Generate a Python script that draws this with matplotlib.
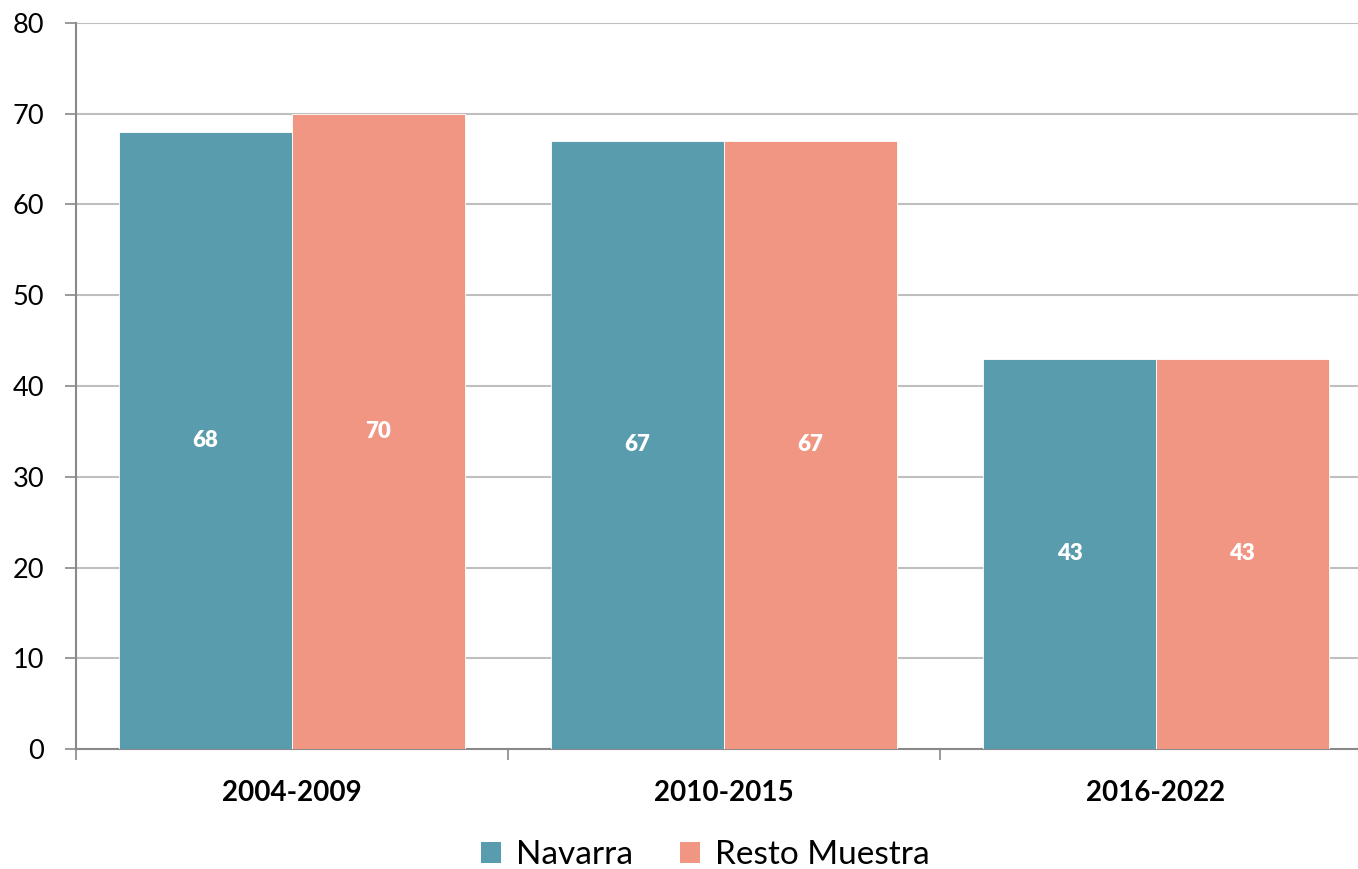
import matplotlib
matplotlib.use("Agg")
import matplotlib.pyplot as plt
from matplotlib.patches import Patch
import numpy as np

plt.rcParams['font.family'] = ['Lato', 'DejaVu Sans']

categories = ["2004-2009", "2010-2015", "2016-2022"]
navarra = [68, 67, 43]
resto = [70, 67, 43]
series_names = ["Navarra", "Resto Muestra"]
colors = ["#589CAD", "#F09683"]
yticks = [0, 10, 20, 30, 40, 50, 60, 70, 80]

W, H = 1358, 869
fig = plt.figure(figsize=(W / 100, H / 100), dpi=100)
left, right, top, bottom = 76, 1372, 23, 749
ax = fig.add_axes([left / W, 1 - bottom / H, (right - left) / W, (bottom - top) / H])

x = np.arange(len(categories))
bw = 0.4
for vals, off, col in ((navarra, -bw / 2, colors[0]), (resto, bw / 2, colors[1])):
    bars = ax.bar(x + off, vals, width=bw, color=col, edgecolor="white",
                  linewidth=0.6, zorder=3)
    for b, v in zip(bars, vals):
        ax.text(b.get_x() + b.get_width() / 2, v / 2, f"{v}", ha="center",
                va="center", color="white", fontsize=16, fontweight="heavy",
                zorder=4)

ax.set_xlim(-0.5, len(categories) - 0.5)
ax.set_ylim(0, 80)
ax.set_yticks(yticks)
ax.set_yticklabels([str(t) for t in yticks], fontsize=19.5)
ax.yaxis.grid(True, color="#BFBFBF", linewidth=1.5, zorder=0)
ax.set_axisbelow(True)

ax.set_xticks(x)
ax.set_xticklabels(categories, fontsize=20, fontweight="bold")
ax.tick_params(axis="x", length=0, pad=22)
ax.set_xticks(np.arange(len(categories) + 1) - 0.5, minor=True)
ax.tick_params(axis="x", which="minor", length=8, color="#898989", width=1.2)
ax.tick_params(axis="y", length=8, color="#898989", width=1.2, pad=15)

for s in ("top", "right"):
    ax.spines[s].set_visible(False)
for s in ("left", "bottom"):
    ax.spines[s].set_color("#898989")
    ax.spines[s].set_linewidth(1.5)

handles = [Patch(facecolor=c, edgecolor="none") for c in colors]
fig.legend(handles, series_names, loc="center", bbox_to_anchor=(705 / W, 1 - 855 / H),
           ncol=2, frameon=False, fontsize=24, handlelength=0.6, handleheight=0.6,
           handletextpad=0.45, columnspacing=1.4, borderpad=0)

fig.savefig("out.png", dpi=100, facecolor="white")
